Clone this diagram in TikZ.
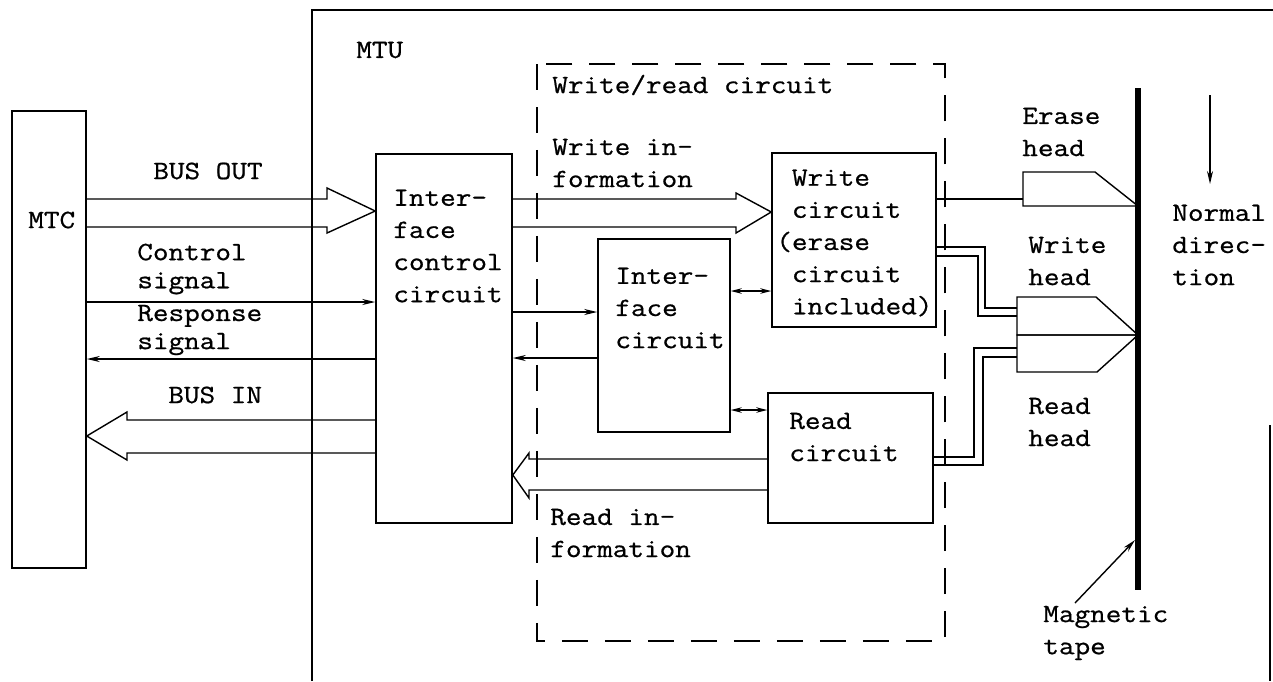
\documentclass[tikz,border=0pt]{standalone}
\usepackage{fontspec}
\newfontfamily\tw[FakeStretch=1.15,FakeBold=0.8]{Latin Modern Mono}
\usetikzlibrary{arrows.meta,calc}
\begin{document}
\begin{tikzpicture}[x=0.02cm,y=-0.02cm,
  box/.style={draw,line width=0.9pt,inner sep=0pt},
  txt/.style={font=\tw\fontsize{15}{18.3}\selectfont,align=left,inner sep=0pt,anchor=west},
  txts/.style={font=\tw\fontsize{15}{16}\selectfont,align=left,inner sep=0pt,anchor=west},
  ln/.style={line width=0.8pt},
  sarrow/.style={ln,-{Stealth[length=2.6mm,width=1.2mm]}},
  dblarrow/.style={ln,{Stealth[length=2.2mm,width=1.1mm]}-{Stealth[length=2.2mm,width=1.1mm]}},
  bus/.style={ln,line join=miter},
  dashedbox/.style={line width=0.8pt,dash pattern=on 0.52cm off 0.34cm}]
\useasboundingbox (0,0) rectangle (1273,681);
% outer MTU frame
\draw[ln] (312,681) -- (312,10) -- (1273,10);
\draw[ln] (1270,425) -- (1270,681);
% dashed write/read box
\draw[dashedbox] (537,64) rectangle (945,641);
% boxes
\node[box,minimum width=1.48cm,minimum height=9.14cm] (mtc) at (49,339.5) {};
\node[box,minimum width=2.72cm,minimum height=7.38cm] (icc) at (444,338.5) {};
\node[box,minimum width=2.64cm,minimum height=3.86cm] (ifc) at (664,335.5) {};
\node[box,minimum width=3.28cm,minimum height=3.48cm] (wc) at (854,240) {};
\node[box,minimum width=3.30cm,minimum height=2.60cm] (rc) at (850.5,458) {};
% texts
\node[txt] (tmtc) at (28,220) {MTC};
\node[txt] (tmtu) at (356,50) {MTU};
\node[txt] (tbo) at (153,171) {BUS OUT};
\node[txts] (tcs) at (137,269) {Control\\signal};
\node[txts] (trs) at (137,330) {Response\\signal};
\node[txt] (tbi) at (168,395) {BUS IN};
\node[txt] (twr) at (552,85) {Write/read circuit};
\node[txt] (twi) at (552,163) {Write in-\\formation};
\node[txt] (ticc) at (393,246) {Inter-\\face\\control\\circuit};
\node[txt] (tifc) at (615,308) {Inter-\\face\\circuit};
\node[txt] (twc) at (776,243) {\ Write\\\ circuit\\(erase\\\ circuit\\\ included)};
\node[txt] (trc) at (789,437) {Read\\circuit};
\node[txt] (tri) at (550,533) {Read in-\\formation};
\node[txt] (teh) at (1022,132) {Erase\\head};
\node[txt] (twh) at (1028,261) {Write\\head};
\node[txt] (trh) at (1028,422) {Read\\head};
\node[txt] (tnd) at (1172,245) {Normal\\direc-\\tion};
\node[txt] (tmt) at (1043,633) {Magnetic\\tape};
% BUS OUT hollow arrow
\draw[bus] (mtc.east |- 0,199) -- (327,199) -- (327,188) -- (icc.west |- 0,211) -- (327,233) -- (327,227) -- (mtc.east |- 0,227);
% BUS IN hollow arrow
\draw[bus] (icc.west |- 0,420) -- (127,420) -- (127,412) -- (mtc.east |- 0,436) -- (127,460) -- (127,453) -- (icc.west |- 0,453);
% control / response
\draw[sarrow] (mtc.east |- 0,302) -- (icc.west |- 0,302);
\draw[sarrow] (icc.west |- 0,359) -- (mtc.east |- 0,359);
\draw[sarrow] (icc.east |- 0,312) -- (ifc.west |- 0,312);
\draw[sarrow] (ifc.west |- 0,358) -- (icc.east |- 0,358);
% write information hollow arrow
\draw[bus] (icc.east |- 0,199) -- (736,199) -- (736,193) -- (wc.west |- 0,212) -- (736,233) -- (736,227) -- (icc.east |- 0,227);
% read information hollow arrow
\draw[bus] (rc.west |- 0,459) -- (529,459) -- (529,453) -- (icc.east |- 0,475) -- (529,498) -- (529,490) -- (rc.west |- 0,490);
% interface double arrows
\draw[dblarrow] (ifc.east |- 0,291) -- (wc.west |- 0,291);
\draw[dblarrow] (ifc.east |- 0,410) -- (rc.west |- 0,410);
% heads
\coordinate (ehl) at (1023,199);
\coordinate (whl1) at (1017,308);
\coordinate (whl2) at (1017,316);
\coordinate (rhl1) at (1017,348);
\coordinate (rhl2) at (1017,357);
\draw[ln,line join=miter] (1023,172) -- (1095,172) -- (1138,206) -- (1023,206) -- cycle;
\draw[ln,line join=miter] (1017,297) -- (1096,297) -- (1138,335) -- (1017,335) -- cycle;
\draw[ln,line join=miter] (1017,335) -- (1138,335) -- (1097,372) -- (1017,372) -- cycle;
% wires
\draw[ln] (wc.east |- 0,199) -- (ehl);
\draw[ln] (wc.east |- 0,247) -- (985,247) -- (985,308) -- (whl1);
\draw[ln] (wc.east |- 0,256) -- (978,256) -- (978,316) -- (whl2);
\draw[ln] (rc.east |- 0,457) -- (974,457) -- (974,348) -- (rhl1);
\draw[ln] (rc.east |- 0,465) -- (983,465) -- (983,357) -- (rhl2);
% magnetic tape
\coordinate (tapetop) at (1138,88);
\coordinate (tapebot) at (1138,590);
\draw[line width=3pt] (tapetop) -- (tapebot);
\coordinate (mtarrow) at (1135,540);
\draw[sarrow] (1075,603) -- (mtarrow);
% normal direction arrow
\coordinate (ndtop) at (1210,95);
\coordinate (ndbot) at (1210,184);
\draw[sarrow] (ndtop) -- (ndbot);
\end{tikzpicture}
\end{document}
